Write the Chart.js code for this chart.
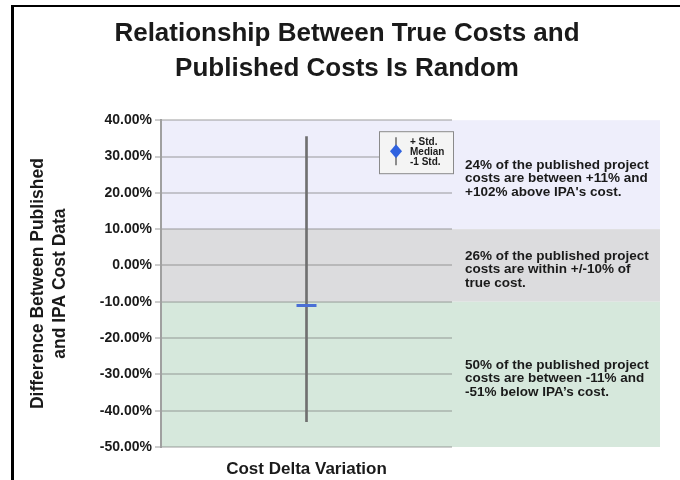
<!DOCTYPE html>
<html>
<head>
<meta charset="utf-8">
<script src="https://cdn.jsdelivr.net/npm/chart.js@4.4.1/dist/chart.umd.min.js"></script>
<style>
  html, body { margin: 0; padding: 0; background: #fff; }
  #wrap { position: relative; width: 680px; height: 480px; overflow: hidden; }
  #chart { position: absolute; left: 0; top: 0; }
  #frame { position: absolute; left: 11px; top: 5px; width: 700px; height: 500px;
           border-left: 3px solid #000; border-top: 2px solid #000; }
</style>
</head>
<body>
<div id="wrap">
  <canvas id="chart" width="680" height="480"></canvas>
  <div id="frame"></div>
</div>
<script>
// values
var categories = [''];
var plusStd = [35.5];
var median = [-11];
var minusStd = [-43];
var yTicks = [40, 30, 20, 10, 0, -10, -20, -30, -40, -50];

// shaded bands (top/bottom in %) and their notes
var bandEdges = [40, 10, -10, -50];
var bandColors = ['#eeeefb', '#dcdcde', '#d6e8dc'];
var bandNotes = [
  ['24% of the published project', 'costs are between +11% and', "+102% above IPA's cost."],
  ['26% of the published project', 'costs are within +/-10% of', 'true cost.'],
  ['50% of the published project', 'costs are between -11% and', '-51% below IPA\u2019s cost.']
];
var legendLabels = ['+ Std.', 'Median', '-1 Std.'];

var FONT = 'Liberation Sans, Arial, Helvetica, sans-serif';
var TEXT = '#1a1a1a';

var bandsPlugin = {
  id: 'bands',
  beforeDraw: function (chart) {
    var ctx = chart.ctx, y = chart.scales.y, area = chart.chartArea;
    var right = chart.scales.y2.right - 20;
    ctx.save();
    for (var i = 0; i < bandColors.length; i++) {
      var top = y.getPixelForValue(bandEdges[i]);
      var bot = y.getPixelForValue(bandEdges[i + 1]);
      ctx.fillStyle = bandColors[i];
      ctx.fillRect(area.left, top, right - area.left, bot - top);
    }
    ctx.restore();
  },
  afterDraw: function (chart) {
    var ctx = chart.ctx, y = chart.scales.y, area = chart.chartArea;
    ctx.save();
    ctx.fillStyle = TEXT;
    ctx.font = 'bold 13.5px ' + FONT;
    ctx.textBaseline = 'middle';
    ctx.textAlign = 'left';
    var lh = 13.5;
    for (var i = 0; i < bandNotes.length; i++) {
      var mid = (y.getPixelForValue(bandEdges[i]) + y.getPixelForValue(bandEdges[i + 1])) / 2 + 4;
      var lines = bandNotes[i];
      var start = mid - lh * (lines.length - 1) / 2;
      for (var j = 0; j < lines.length; j++) {
        ctx.fillText(lines[j], area.right + 13, start + j * lh);
      }
    }

    // legend box
    var bx = area.right - 73, by = area.top + 11, bw = 74, bh = 42;
    ctx.fillStyle = '#f4f4f4';
    ctx.fillRect(bx, by, bw, bh);
    ctx.strokeStyle = '#8a8a8a';
    ctx.lineWidth = 1;
    ctx.strokeRect(bx + 0.5, by + 0.5, bw, bh);
    ctx.strokeStyle = '#8c8c8c';
    ctx.lineWidth = 2;
    ctx.beginPath();
    ctx.moveTo(bx + 17, by + 6);
    ctx.lineTo(bx + 17, by + 34);
    ctx.stroke();
    ctx.fillStyle = '#2f62e0';
    ctx.beginPath();
    ctx.moveTo(bx + 17, by + 13);
    ctx.lineTo(bx + 23, by + 20);
    ctx.lineTo(bx + 17, by + 27);
    ctx.lineTo(bx + 11, by + 20);
    ctx.closePath();
    ctx.fill();
    ctx.fillStyle = TEXT;
    ctx.font = 'bold 10px ' + FONT;
    ctx.fillText(legendLabels[0], bx + 31, by + 11);
    ctx.fillText(legendLabels[1], bx + 31, by + 21);
    ctx.fillText(legendLabels[2], bx + 31, by + 31);
    ctx.restore();
  }
};

var ctx = document.getElementById('chart');
new Chart(ctx, {
  data: {
    labels: categories,
    datasets: [{
      type: 'bar',
      label: '+ Std. / -1 Std.',
      data: categories.map(function (c, i) { return [minusStd[i], plusStd[i]]; }),
      backgroundColor: '#707070',
      barThickness: 2,
      order: 2
    }, {
      type: 'line',
      label: 'Median',
      data: median,
      showLine: false,
      pointStyle: 'line',
      pointRadius: 10,
      pointBorderColor: '#4a6fd6',
      pointBorderWidth: 3,
      order: 1
    }]
  },
  options: {
    responsive: false,
    animation: false,
    devicePixelRatio: 1,
    events: [],
    layout: { padding: { left: 14, right: 0, top: 0, bottom: 0 } },
    plugins: {
      legend: { display: false },
      tooltip: { enabled: false },
      title: {
        display: true,
        text: ['Relationship Between True Costs and', 'Published Costs Is Random'],
        color: TEXT,
        font: { family: FONT, size: 26, weight: 'bold', lineHeight: 1.35 },
        padding: { top: 16, bottom: 34 }
      }
    },
    scales: {
      x: {
        afterFit: function (s) { s.height = 33; },
        grid: { display: false },
        border: { display: false },
        ticks: { display: false },
        title: {
          display: true,
          text: 'Cost Delta Variation',
          color: TEXT,
          font: { family: FONT, size: 17, weight: 'bold' },
          padding: { top: 0, bottom: 0 }
        }
      },
      y: {
        min: -50,
        max: 40,
        afterBuildTicks: function (s) {
          s.ticks = yTicks.map(function (v) { return { value: v }; });
        },
        afterFit: function (s) { s.width = 147; },
        border: { display: true, color: '#a0a0a0', width: 2 },
        grid: {
          color: 'rgba(125,125,125,0.38)',
          lineWidth: 2,
          tickLength: 6,
          tickColor: '#9a9a9a',
          tickWidth: 1
        },
        ticks: {
          color: TEXT,
          padding: 3,
          font: { family: FONT, size: 14, weight: 'bold' },
          callback: function (v) { return v.toFixed(2) + '%'; }
        },
        title: {
          display: true,
          text: ['Difference Between Published', 'and IPA Cost Data'],
          color: TEXT,
          font: { family: FONT, size: 17.5, weight: 'bold', lineHeight: 1.25 },
          padding: { top: 13, bottom: 0 }
        }
      },
      y2: {
        type: 'linear',
        position: 'right',
        afterFit: function (s) { s.width = 228; },
        grid: { display: false },
        border: { display: false },
        ticks: { display: false }
      }
    }
  },
  plugins: [bandsPlugin]
});
</script>
</body>
</html>
